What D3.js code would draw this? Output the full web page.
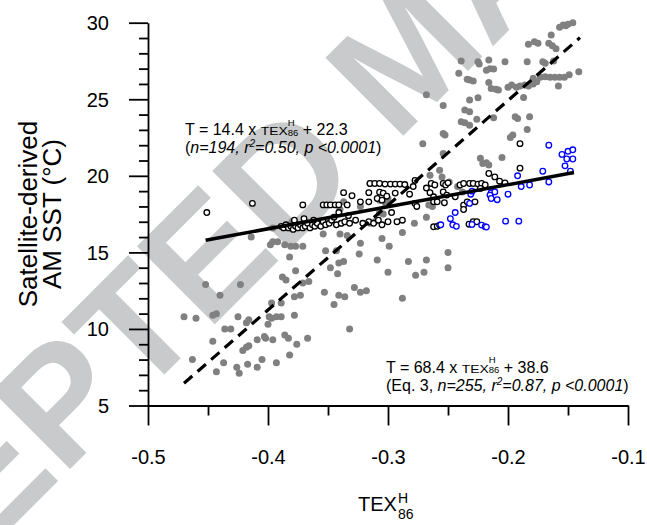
<!DOCTYPE html>
<html>
<head>
<meta charset="utf-8">
<script src="https://cdn.jsdelivr.net/npm/d3@7"></script>
<style>
  body { margin: 0; background: #fff; }
  svg { display: block; }
  text { font-family: "Liberation Sans", Arial, sans-serif; white-space: pre; }
</style>
</head>
<body>
<svg id="chart" width="647" height="525"></svg>
<script>
// values (TEX86H vs satellite SST)
var xTicks = [-0.5, -0.4, -0.3, -0.2, -0.1],
    xMinorTicks = [-0.45, -0.35, -0.25, -0.15],
    yTicks = [5, 10, 15, 20, 25, 30],
    yMinorTicks = d3.range(5, 31).filter(function(v) { return v % 5 != 0 });

// all samples (grey filled)
var grayPts = [
  [-0.452,12.9],[-0.423,12.9],[-0.44,12.2],[-0.47,10.8],[-0.46,10.7],[-0.446,10.9],[-0.443,11.0],
  [-0.425,10.8],[-0.416,10.6],[-0.418,10.4],[-0.436,10.0],[-0.431,10.0],[-0.446,9.2],[-0.463,8.0],
  [-0.443,7.2],[-0.437,7.8],[-0.426,7.5],[-0.424,7.1],[-0.421,8.6],[-0.418,8.8],[-0.416,8.9],
  [-0.417,7.7],[-0.409,7.5],[-0.405,8.0],[-0.409,9.3],[-0.403,9.5],[-0.402,9.4],[-0.396,9.3],
  [-0.393,7.8],[-0.4,10.3],[-0.399,10.8],[-0.397,10.7],[-0.393,10.8],[-0.389,10.8],[-0.378,10.9],
  [-0.397,11.7],[-0.389,11.7],[-0.386,9.6],[-0.383,9.4],[-0.376,9.0],[-0.382,8.3],[-0.367,9.4],
  [-0.378,12.1],[-0.373,12.2],[-0.388,13.4],[-0.385,13.2],[-0.377,13.8],[-0.382,14.7],[-0.366,13.1],
  [-0.371,13.0],[-0.353,12.4],[-0.345,11.6],[-0.341,12.2],[-0.336,12.1],[-0.348,14.0],[-0.342,13.6],
  [-0.341,14.3],[-0.337,14.4],[-0.352,15.1],[-0.332,10.0],
  [-0.414,16.0],[-0.398,15.5],[-0.396,15.7],[-0.392,15.7],[-0.386,15.5],[-0.381,15.4],[-0.377,15.4],
  [-0.371,15.4],[-0.354,16.2],[-0.384,16.7],[-0.38,17.0],[-0.376,16.8],[-0.339,16.9],[-0.343,15.1],
  [-0.334,16.1],[-0.396,16.6],
  [-0.328,12.7],[-0.323,12.4],[-0.318,12.5],[-0.324,14.9],[-0.309,14.5],[-0.3,13.7],[-0.299,15.4],
  [-0.305,15.9],[-0.288,12.0],[-0.283,14.4],[-0.277,13.5],[-0.27,13.7],[-0.25,14.0],[-0.288,16.3],
  [-0.278,16.9],
  [-0.315,19.5],[-0.307,18.4],[-0.302,18.2],[-0.3,18.5],[-0.323,18.0],[-0.337,18.3],[-0.34,17.8],
  [-0.307,17.6],[-0.304,17.5],[-0.315,16.9],[-0.311,17.0],[-0.34,16.2],[-0.323,15.6],[-0.268,17.3],
  [-0.266,18.1],[-0.263,18.0],[-0.262,18.3],[-0.268,14.5],[-0.25,15.0],[-0.249,19.6],[-0.242,19.3],
  [-0.238,18.95],
  [-0.157,29.7],[-0.154,29.85],[-0.152,29.8],[-0.15,29.9],[-0.146,30.0],[-0.164,29.2],[-0.183,28.6],
  [-0.178,28.76],[-0.175,28.65],[-0.166,28.65],[-0.163,28.5],[-0.16,28.3],[-0.239,27.5],[-0.225,27.45],
  [-0.224,27.3],[-0.216,27.56],[-0.2025,27.45],[-0.184,27.45],[-0.171,27.45],[-0.169,27.35],
  [-0.162,27.5],[-0.241,26.7],[-0.218,26.9],[-0.215,27.0],[-0.212,26.97],[-0.234,26.3],[-0.232,26.25],
  [-0.229,26.2],[-0.216,26.1],[-0.214,25.71],[-0.21,25.65],[-0.208,25.6],[-0.2,25.78],[-0.197,25.93],
  [-0.193,25.78],[-0.19,25.86],[-0.186,25.93],[-0.183,25.86],[-0.179,26.0],[-0.179,26.37],[-0.176,26.14],
  [-0.173,26.43],[-0.169,26.47],[-0.165,26.43],[-0.161,26.43],[-0.157,26.43],[-0.153,26.43],
  [-0.149,26.6],[-0.141,26.8],[-0.158,25.86],[-0.268,25.3],[-0.254,24.6],[-0.232,24.95],[-0.225,25.1],
  [-0.236,24.3],[-0.232,24.18],[-0.187,25.12],[-0.194,23.86],[-0.192,23.75],[-0.182,23.86],
  [-0.254,22.77],[-0.2525,22.66],[-0.239,23.53],[-0.236,23.46],[-0.232,23.3],[-0.226,23.69],
  [-0.212,23.8],[-0.271,22.1],[-0.198,22.5],[-0.196,22.66],[-0.184,23.03],[-0.254,21.46],
  [-0.223,21.14],[-0.221,20.81],[-0.218,20.85],[-0.216,20.7],[-0.205,21.2],[-0.265,20.04],
  [-0.257,20.37],[-0.255,19.93]
];

// subset (black open)
var blackPts = [
  [-0.451,17.6],[-0.413,18.2],[-0.371,18.1],[-0.354,18.1],[-0.351,18.1],[-0.348,18.1],[-0.344,18.1],
  [-0.341,18.1],[-0.341,17.6],[-0.337,18.9],[-0.334,18.1],[-0.33,18.7],[-0.323,18.3],[-0.316,18.9],
  [-0.315,19.5],[-0.311,19.5],[-0.307,19.5],[-0.3025,19.46],[-0.298,19.46],[-0.294,19.46],[-0.29,19.46],
  [-0.286,19.43],[-0.307,18.93],[-0.304,18.87],[-0.301,18.67],[-0.294,18.87],[-0.282,18.8],
  [-0.309,18.52],[-0.305,18.41],[-0.316,18.3],[-0.297,17.6],[-0.2925,17.0],[-0.288,17.1],
  [-0.2775,19.7],[-0.279,19.3],[-0.2775,18.2],[-0.276,18.0],[-0.268,19.2],[-0.265,18.9],[-0.262,18.63],
  [-0.264,19.5],[-0.261,19.4],[-0.254,19.5],[-0.252,19.4],[-0.25,19.54],[-0.254,18.95],[-0.251,18.74],
  [-0.262,18.3],[-0.259,18.3],[-0.253,18.24],[-0.244,18.63],[-0.24,19.4],[-0.237,19.5],[-0.232,19.5],
  [-0.229,19.5],[-0.225,19.46],[-0.222,19.5],[-0.219,19.4],[-0.237,18.08],[-0.237,17.8],[-0.234,18.3],
  [-0.2275,18.3],[-0.223,19.18],[-0.216,20.15],[-0.211,19.93],[-0.207,19.65],[-0.2025,19.54],
  [-0.19,22.1],[-0.19,20.5],[-0.262,16.67],[-0.259,16.7],[-0.257,16.78],[-0.2325,16.84],[-0.229,17.0],
  [-0.226,17.0],
  [-0.389,16.7],[-0.387,16.6],[-0.385,16.8],[-0.383,16.6],[-0.381,16.7],[-0.379,16.5],[-0.377,16.7],
  [-0.375,16.6],[-0.373,16.8],[-0.371,16.6],[-0.369,16.7],[-0.367,16.9],[-0.365,16.6],[-0.363,16.8],
  [-0.361,16.7],[-0.359,16.9],[-0.356,16.7],[-0.354,17.0],[-0.352,16.8],[-0.349,16.9],[-0.347,17.1],
  [-0.343,16.8],[-0.339,16.9],[-0.336,17.0],[-0.332,16.9],[-0.327,17.1],[-0.321,16.9],[-0.316,17.0],
  [-0.312,16.9],[-0.308,17.1],[-0.305,16.8],[-0.3,17.0],
  [-0.378,17.1],[-0.37,17.2],[-0.362,17.1],[-0.345,17.3],[-0.333,17.4]
];

// subset (blue open)
var bluePts = [
  [-0.166,22.0],[-0.155,21.4],[-0.15,21.6],[-0.146,21.7],[-0.151,21.1],[-0.146,21.1],[-0.1525,20.65],
  [-0.148,20.3],[-0.171,20.3],[-0.166,19.6],[-0.192,20.0],[-0.182,19.4],[-0.189,19.3],[-0.2,18.8],
  [-0.214,18.89],[-0.211,18.95],[-0.215,18.74],[-0.214,18.52],[-0.209,18.44],[-0.231,18.8],[-0.23,19.0],
  [-0.232,18.2],[-0.244,17.6],[-0.248,17.2],[-0.246,16.8],[-0.243,16.7],[-0.256,16.8],[-0.23,16.82],
  [-0.222,16.78],[-0.219,16.68],[-0.218,16.65],[-0.202,17.04],[-0.191,17.04]
];

// regressions as printed on the figure
var fitAll = { slope: 68.4, icpt: 38.6, from: -0.47, to: -0.14 },
    fitSub = { slope: 14.4, icpt: 22.3, from: -0.452, to: -0.145 };

var svg = d3.select('#chart');

var x = d3.scaleLinear().domain([-0.5, -0.1]).range([148, 628]),
    y = d3.scaleLinear().domain([5, 30]).range([405.5, 22.7]);

// watermark behind everything
svg.append('text')
  .attr('transform', 'translate(-258,797) rotate(-45)')
  .attr('font-size', 160)
  .attr('font-weight', 'bold')
  .attr('fill', '#c9cacc')
  .text('ACCEPTED MANUSCRIPT');

// axes
var yMinorAxis = svg.append('g').attr('transform', 'translate(148,0)')
  .call(d3.axisLeft(y).tickValues(yMinorTicks).tickSize(9).tickSizeOuter(0).tickFormat(''));
var yAxis = svg.append('g').attr('transform', 'translate(148,0)')
  .call(d3.axisLeft(y).tickValues(yTicks).tickSize(19).tickSizeOuter(0).tickPadding(20));
var xMinorAxis = svg.append('g').attr('transform', 'translate(0,405.5)')
  .call(d3.axisBottom(x).tickValues(xMinorTicks).tickSize(10).tickSizeOuter(0).tickFormat(''));
var xAxis = svg.append('g').attr('transform', 'translate(0,405.5)')
  .call(d3.axisBottom(x).tickValues(xTicks).tickSize(20).tickSizeOuter(0).tickPadding(24)
    .tickFormat(function(d) { return d.toFixed(1) }));

svg.selectAll('.domain, .tick line').attr('stroke', '#000').attr('stroke-width', 1.8);
yMinorAxis.select('.domain').remove();
xMinorAxis.select('.domain').remove();
svg.selectAll('.tick text')
  .attr('font-size', 20)
  .attr('font-family', '"Liberation Sans", Arial, sans-serif')
  .attr('fill', '#000');
yAxis.selectAll('.tick text').attr('dy', '0.35em');

// points
svg.append('g').selectAll('circle').data(grayPts).enter().append('circle')
  .attr('cx', function(d) { return x(d[0]) })
  .attr('cy', function(d) { return y(d[1]) })
  .attr('r', 3.5)
  .attr('fill', '#808080');

svg.append('g').selectAll('circle').data(blackPts).enter().append('circle')
  .attr('cx', function(d) { return x(d[0]) })
  .attr('cy', function(d) { return y(d[1]) })
  .attr('r', 2.8)
  .attr('fill', '#fff')
  .attr('stroke', '#000')
  .attr('stroke-width', 1.3);

svg.append('g').selectAll('circle').data(bluePts).enter().append('circle')
  .attr('cx', function(d) { return x(d[0]) })
  .attr('cy', function(d) { return y(d[1]) })
  .attr('r', 2.8)
  .attr('fill', '#fff')
  .attr('stroke', '#0000ff')
  .attr('stroke-width', 1.3);

// fit lines
function fitLine(f) {
  return d3.line()
    .x(function(d) { return x(d) })
    .y(function(d) { return y(f.slope * d + f.icpt) })([f.from, f.to]);
}
svg.append('path').attr('d', fitLine(fitAll))
  .attr('fill', 'none').attr('stroke', '#000').attr('stroke-width', 3.2)
  .attr('stroke-dasharray', '11,7');
svg.append('path').attr('d', fitLine(fitSub))
  .attr('fill', 'none').attr('stroke', '#000').attr('stroke-width', 3.5);

// text made of pieces, laid out left to right
function richText(x0, y0, parts) {
  var g = svg.append('g'), cx = x0;
  parts.forEach(function(p) {
    var items = p.stack || [p], w = 0;
    items.forEach(function(s) {
      var t = g.append('text')
        .attr('x', cx).attr('y', y0 + (s.dy || 0))
        .attr('font-size', s.size)
        .attr('font-style', s.italic ? 'italic' : null)
        .attr('fill', '#000')
        .text(s.t);
      if (s.len) t.attr('textLength', s.len).attr('lengthAdjust', 'spacingAndGlyphs');
      w = Math.max(w, s.len || t.node().getComputedTextLength());
    });
    cx += w + (p.gap || 0);
  });
  return cx - x0;
}

function eqParts(f) {
  return [
    { t: 'T = ' + f.slope + ' x ', size: 16 },
    { t: 'TEX', size: 11.5, len: 27 },
    { stack: [{ t: 'H', size: 9.5, dy: -9.5 }, { t: '86', size: 9.5, dy: 0.8 }] },
    { t: ' + ' + f.icpt, size: 16 }
  ];
}

richText(185, 135, eqParts(fitSub));
richText(185, 153, [
  { t: '(', size: 16 },
  { t: 'n=194, r', size: 16, italic: true },
  { t: '2', size: 10, dy: -6, italic: true },
  { t: '=0.50, p <0.0001', size: 16, italic: true },
  { t: ')', size: 16 }
]);

richText(386, 372.5, eqParts(fitAll));
richText(386, 390.5, [
  { t: '(Eq. 3, ', size: 16 },
  { t: 'n=255, r', size: 16, italic: true },
  { t: '2', size: 10, dy: -6, italic: true },
  { t: '=0.87, p <0.0001', size: 16, italic: true },
  { t: ')', size: 16 }
]);

// axis titles
richText(358, 511, [
  { t: 'TEX', size: 20, gap: 1 },
  { stack: [{ t: 'H', size: 14, dy: -8 }, { t: '86', size: 14, dy: 8 }] }
]);

svg.append('text')
  .attr('transform', 'translate(37,214) rotate(-90)')
  .attr('text-anchor', 'middle')
  .attr('font-size', 26)
  .text('Satellite-derived');
svg.append('text')
  .attr('transform', 'translate(60.5,214) rotate(-90)')
  .attr('text-anchor', 'middle')
  .attr('font-size', 26)
  .text('AM SST (°C)');
</script>
</body>
</html>
